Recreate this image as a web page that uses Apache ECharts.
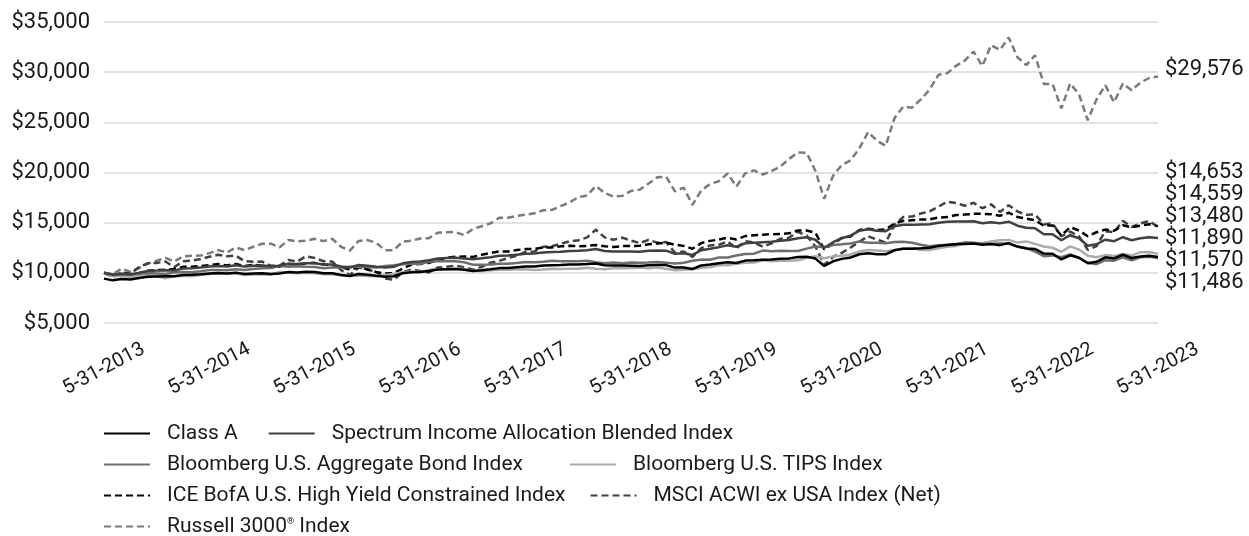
<!DOCTYPE html>
<html><head><meta charset="utf-8">
<script src="https://cdn.jsdelivr.net/npm/echarts@6/dist/echarts.min.js"></script>
<style>html,body{margin:0;padding:0;background:#fff}#c{width:1249px;height:536px}</style>
</head><body><div id="c"></div>
<script>
// ---- data ----
const tickLabels = ['5-31-2013','5-31-2014','5-31-2015','5-31-2016','5-31-2017','5-31-2018','5-31-2019','5-31-2020','5-31-2021','5-31-2022','5-31-2023'];
const monthEnds = [31,28,31,30,31,30,31,31,30,31,30,31];
const categories = [];
for (let k = 0; k < 121; k++) { const m = (4 + k) % 12; const y = 2013 + Math.floor((4 + k) / 12); let d = monthEnds[m]; if (m === 1 && y % 4 === 0) d = 29; categories.push((m + 1) + '-' + d + '-' + y); }

const classA = [9425,9250,9380,9330,9480,9620,9640,9660,9650,9780,
9800,9860,9930,9990,9930,10010,9880,9940,9950,9880,
9930,10080,10030,10100,10090,9960,9960,9780,9680,9880,
9800,9700,9600,9660,9960,10060,10080,10180,10330,10360,
10380,10310,10180,10260,10350,10470,10490,10560,10630,10640,
10720,10750,10780,10820,10830,10870,10930,10750,10720,10720,
10710,10680,10760,10780,10770,10520,10540,10380,10740,10840,
10960,11050,10980,11220,11260,11310,11330,11400,11440,11570,
11610,11420,10680,11150,11390,11530,11850,11960,11860,11850,
12250,12400,12410,12450,12510,12680,12780,12840,12870,12930,
12800,12880,12760,12960,12620,12420,12380,11920,11900,11330,
11750,11510,10950,11100,11550,11440,11800,11480,11640,11700,
11570];
const spectrum = [10000,9800,9900,9840,10000,10180,10220,10260,10240,10420,
10450,10520,10620,10690,10630,10750,10620,10700,10720,10650,
10700,10900,10870,10950,10960,10820,10830,10640,10530,10780,
10700,10600,10520,10600,10950,11080,11120,11250,11430,11480,
11500,11430,11350,11450,11560,11700,11720,11810,11900,11920,
12030,12070,12110,12170,12200,12260,12380,12170,12130,12130,
12130,12100,12200,12230,12210,11900,11950,11780,12250,12400,
12560,12750,12600,12950,13000,13050,13100,13200,13270,13450,
13550,13300,12500,13050,13450,13700,14200,14350,14200,14150,
14650,14800,14780,14820,14850,15000,15100,15120,15120,15150,
14950,15050,14950,15100,14700,14500,14450,13850,13850,13250,
13750,13450,12700,12850,13300,13150,13550,13250,13450,13550,
13480];
const aggBond = [10000,9845,9859,9809,9902,9982,9945,9888,10034,10087,
10070,10155,10271,10276,10250,10363,10292,10393,10467,10476,
10696,10595,10644,10606,10580,10465,10538,10523,10595,10597,
10569,10535,10680,10756,10855,10896,10899,11095,11165,11153,
11146,11061,10799,10814,10836,10909,10903,10987,11072,11061,
11108,11208,11154,11161,11146,11197,11068,10963,11033,10951,
11029,11016,11018,11088,11017,10930,10996,11198,11317,11310,
11527,11530,11735,11883,11909,12218,12153,12189,12183,12175,
12409,12632,12557,12781,12841,12922,13115,13009,13002,12944,
13071,13089,12995,12808,12648,12748,12790,12880,13024,12999,
12886,12882,12921,12887,12610,12469,12122,11663,11738,11554,
11836,11501,11004,10861,11261,11210,11555,11256,11542,11612,
11486];
const tips = [10000,9670,9709,9553,9697,9784,9657,9464,9653,9702,
9653,9788,9886,9926,9926,9985,9785,9824,9824,9805,
10099,10018,9968,10018,9958,9858,9848,9760,9701,9721,
9692,9653,9778,9876,10064,10124,10084,10296,10368,10347,
10419,10377,10180,10190,10261,10313,10313,10344,10354,10292,
10333,10416,10374,10395,10405,10499,10405,10353,10446,10446,
10488,10519,10466,10529,10413,10267,10319,10381,10516,10558,
10748,10748,10898,10996,11029,11261,11160,11193,11204,11260,
11496,11657,11447,11642,11700,11829,12137,12283,12234,12161,
12283,12430,12467,12268,12268,12440,12589,12665,13007,12981,
12981,13124,13242,13282,13016,13133,12884,12626,12500,12100,
12632,12316,11700,11560,11768,11674,11884,11718,12058,12070,
11890];
const highYield = [10000,9740,9925,9866,9965,10214,10265,10316,10388,10596,
10617,10681,10777,10874,10733,10894,10665,10793,10717,10567,
10630,10885,10831,10961,10994,10829,10764,10581,10306,10584,
10351,10082,9921,9981,10420,10826,10891,10989,11275,11512,
11593,11639,11581,11801,11966,12146,12122,12267,12377,12389,
12525,12525,12638,12689,12651,12689,12765,12650,12574,12662,
12662,12700,12840,12930,13008,12800,12685,12406,12964,13184,
13316,13502,13327,13660,13742,13797,13852,13880,13935,14214,
14214,13987,12337,12892,13485,13620,14260,14403,14259,14330,
14903,15186,15247,15308,15339,15507,15554,15756,15803,15882,
15882,15850,15692,15990,15558,15402,15233,14700,14729,13728,
14552,14217,13648,14044,14311,14196,14735,14544,14704,14851,
14653];
const msciExUsa = [10000,9570,10049,9898,10591,10961,10983,11126,10570,11151,
11218,11375,11603,11800,11658,11717,11154,11110,11121,10710,
10720,11288,11119,11653,11478,11157,11124,10267,9785,10519,
10308,10113,9425,9312,10067,10328,10194,10041,10533,10596,
10723,10562,10319,10587,11011,11187,11467,11707,12093,12129,
12590,12653,12893,13138,13243,13534,14292,13535,13291,13504,
13207,12969,13280,13001,13066,12008,12128,11582,12462,12724,
12800,13133,12424,13169,13011,12608,12936,13389,13509,14090,
13710,12613,10784,11604,11987,12526,13090,13653,13311,13018,
14775,15573,15604,15916,16123,16591,17088,16969,16680,16981,
16437,16832,16075,16734,16115,15793,15825,14828,14932,13648,
14112,13660,12294,12663,14157,14044,15181,14574,14924,15178,
14559];
const russell = [10000,9870,10403,10112,10476,10916,11200,11491,11123,11646,
11704,11716,11962,12261,12016,12521,12258,12601,12904,12904,
12543,13270,13137,13203,13388,13161,13385,12582,12217,13182,
13261,12983,12256,12256,13114,13193,13430,13457,13995,14037,
14065,13756,14375,14648,14926,15479,15494,15664,15790,15932,
16235,16267,16657,17024,17534,17710,18649,17959,17600,17670,
18165,18292,18896,19538,19577,18128,18491,16771,18214,18851,
19134,19899,18606,19908,20207,19803,20140,20583,21365,21985,
21963,20162,17380,19674,20736,21213,22422,24036,23171,22661,
25426,26570,26464,27284,28266,29736,29885,30632,31153,32056,
30614,32696,32206,33462,31488,30700,31683,28831,28802,26383,
28863,27795,25210,27277,28696,27003,28866,28202,28963,29420,
29576];

const seriesNames = ['Class A','Spectrum Income Allocation Blended Index','Bloomberg U.S. Aggregate Bond Index','Bloomberg U.S. TIPS Index','ICE BofA U.S. High Yield Constrained Index','MSCI ACWI ex USA Index (Net)','Russell 3000\u00AE Index'];
const seriesData = [classA, spectrum, aggBond, tips, highYield, msciExUsa, russell];

// ---- styles ----
const FONT = 'Roboto';
const TXT = '#1a1a1a';
const styles = [
  {color:'#000000', type:'solid', z:9},
  {color:'#404040', type:'solid', z:8},
  {color:'#6e6e6e', type:'solid', z:7},
  {color:'#ababab', type:'solid', z:6},
  {color:'#000000', type:[7,4], z:5},
  {color:'#404040', type:[7,4], z:4},
  {color:'#7a7a7a', type:[7,4], z:3}
];

const series = seriesNames.map((n, i) => ({
  name: n, type: 'line', data: seriesData[i], symbol: 'none', showSymbol: false,
  z: styles[i].z, silent: true,
  lineStyle: {color: styles[i].color, width: 2.5, type: styles[i].type},
  itemStyle: {color: styles[i].color}
}));

function legendRow(names, top, gap) {
  return {
    data: names, left: 103, top: top, orient: 'horizontal', padding: 0,
    itemWidth: 46, itemHeight: 12, itemGap: gap, selectedMode: false,
    itemStyle: {opacity: 0},
    formatter: n => n.replace('\u00AE', '{sup|\u00AE}'),
    textStyle: {fontFamily: FONT, fontSize: 21, color: TXT, padding: [0,0,0,12],
      rich: {sup: {fontFamily: FONT, fontSize: 9, color: TXT, padding: [0,0,9,0]}}}
  };
}

const chart = echarts.init(document.getElementById('c'), null, {renderer: 'canvas'});
chart.setOption({
  animation: false,
  backgroundColor: '#ffffff',
  grid: {left: 104, right: 91, top: 22, bottom: 213, containLabel: false},
  xAxis: {
    type: 'category', data: categories, boundaryGap: false,
    axisLine: {show: false}, axisTick: {show: false},
    axisLabel: {interval: 11, rotate: 28, align: 'center', verticalAlign: 'middle', margin: 46,
      fontFamily: FONT, fontSize: 20, color: TXT,
      formatter: v => (tickLabels.indexOf(v) >= 0 ? v : '')}
  },
  yAxis: {
    type: 'value', min: 5000, max: 35000, interval: 5000,
    axisLine: {show: false}, axisTick: {show: false},
    splitLine: {lineStyle: {color: '#d9d9d9', width: 1.5}},
    axisLabel: {fontFamily: FONT, fontSize: 22, color: TXT, margin: 14,
      formatter: v => '$' + v.toLocaleString('en-US')}
  },
  legend: [
    legendRow([seriesNames[0], seriesNames[1]], 423, 30),
    legendRow([seriesNames[2], seriesNames[3]], 454, 46),
    legendRow([seriesNames[4], seriesNames[5]], 485, 24),
    legendRow([seriesNames[6]], 516, 24)
  ],
  series: series
});

// ---- end value labels at right edge ----
const lastIdx = categories.length - 1;
const xEnd = chart.convertToPixel({xAxisIndex: 0}, categories[lastIdx]) + 7;
const fmt = v => '$' + v.toLocaleString('en-US');
const graphics = [];
const topVal = russell[lastIdx];
graphics.push({type: 'text', x: xEnd, y: chart.convertToPixel({yAxisIndex: 0}, topVal) - 7,
  style: {text: fmt(topVal), fill: TXT, fontFamily: FONT, fontSize: 22, verticalAlign: 'middle', align: 'left'}});
const others = seriesData.slice(0, 6).map(d => d[lastIdx]).sort((a, b) => b - a);
const stackTop = 172, stackStep = 22;
others.forEach((v, k) => {
  graphics.push({type: 'text', x: xEnd, y: stackTop + k * stackStep,
    style: {text: fmt(v), fill: TXT, fontFamily: FONT, fontSize: 22, verticalAlign: 'middle', align: 'left'}});
});
chart.setOption({graphic: graphics});
</script>
</body></html>
